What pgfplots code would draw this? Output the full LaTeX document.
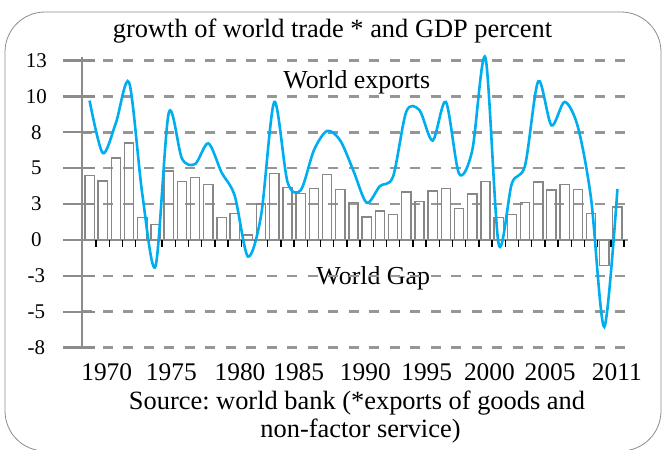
\documentclass[border=0pt]{standalone}
\usepackage{pgfplots}
\pgfplotsset{compat=1.18}
\usepackage{pgfplotstable}
\usepackage{fontspec}
\setmainfont{Liberation Serif}
\frenchspacing
\definecolor{expblue}{RGB}{0,174,239}
\definecolor{gridgray}{RGB}{150,150,150}
\definecolor{axgray}{RGB}{140,140,140}
\definecolor{bargray}{RGB}{135,135,135}

\pgfplotstableread{
year gdp
1970 4.69
1971 4.28
1972 5.94
1973 7.03
1974 1.64
1975 1.13
1976 5.00
1977 4.26
1978 4.53
1979 4.04
1980 1.64
1981 1.90
1982 0.36
1983 2.60
1984 4.79
1985 3.78
1986 3.37
1987 3.73
1988 4.74
1989 3.66
1990 2.69
1991 1.66
1992 2.09
1993 1.86
1994 3.47
1995 2.79
1996 3.54
1997 3.75
1998 2.29
1999 3.34
2000 4.24
2001 1.61
2002 1.86
2003 2.69
2004 4.21
2005 3.63
2006 4.02
2007 3.66
2008 1.93
2009 -1.86
2010 2.38
}\gdptable

\pgfplotstableread{
year exports
1970 10.1
1971 6.3
1972 8.5
1973 11.4
1974 3.3
1975 -1.9
1976 9.2
1977 5.9
1978 5.5
1979 7.0
1980 4.9
1981 3.2
1982 -1.2
1983 1.8
1984 10.0
1985 4.2
1986 3.6
1987 6.5
1988 7.9
1989 7.2
1990 5.0
1991 2.7
1992 3.9
1993 4.6
1994 9.3
1995 9.4
1996 7.2
1997 10.0
1998 4.8
1999 6.5
2000 13.2
2001 -0.3
2002 4.1
2003 5.4
2004 11.5
2005 8.3
2006 10.0
2007 8.2
2008 3.0
2009 -6.3
2010 3.7
}\exptable

\begin{document}
\begin{tikzpicture}
\useasboundingbox (0bp,0bp) rectangle (663bp,450bp);
\draw[axgray, line width=0.8bp, rounded corners=40bp] (5bp,-1bp) rectangle (661bp,438bp);
\node[anchor=base, font=\fontsize{26.5}{28}\selectfont] at (332.5bp,412.5bp) {growth of world trade * and GDP percent};
\node[anchor=base, font=\fontsize{26.5}{28}\selectfont] at (357bp,40.2bp) {Source: world bank (*exports of goods and};
\node[anchor=base, font=\fontsize{26.5}{28}\selectfont] at (360.5bp,13bp) {non-factor service)};
\begin{axis}[
  at={(82.3bp,102.4bp)}, anchor=south west,
  scale only axis, width=545.7bp, height=290.5bp,
  xmin=1969.45, xmax=2010.8,
  ymin=-7.8, ymax=13.25,
  axis x line*=bottom,
  x axis line style={draw=none},
  axis y line*=left,
  y axis line style={axgray, line width=2.2bp, -},
  ytick={-7.8,-5.2,-2.6,0,2.6,5.2,7.8,10.4,13},
  yticklabels={-8,-5,-3,0,3,5,8,10,13},
  ytick style={axgray, line width=2.2bp},
  tick align=outside,
  major tick length=19bp,
  ymajorgrids,
  grid style={gridgray, line width=2.6bp, dash pattern=on 10bp off 10.5bp},
  yticklabel style={font=\fontsize{21}{22}\selectfont, inner sep=0pt, anchor=center, xshift=-27bp},
  xtick={1971.3,1976.2,1981.4,1985.85,1990.9,1995.55,2000.3,2004.9,2009.96},
  xticklabels={1970,1975,1980,1985,1990,1995,2000,2005,2011},
  xtick style={draw=none},
  xticklabel style={font=\fontsize{25.5}{26}\selectfont, inner sep=0pt, anchor=base, yshift=-13.4bp},
  clip=false,
]
\node[anchor=base, font=\fontsize{26}{28}\selectfont] at (axis cs:1991.5,-3.26) {World Gap};
\draw[gridgray, line width=2.6bp, dash pattern=on 10bp off 10.5bp] (axis cs:1969.45,-2.6) -- (axis cs:2010.8,-2.6);
\node[anchor=base, font=\fontsize{26}{28}\selectfont] at (axis cs:1990.25,10.94) {World exports};
\pgfplotsinvokeforeach{-7.8,-5.2,-2.6,0,2.6,5.2,7.8,10.4,13}{
  \draw[axgray, line width=2.2bp] (axis cs:1969.45,#1) -- ([xshift=13bp]axis cs:1969.45,#1);
}
\addplot[ybar, bar width=0.7, draw=bargray, fill=none, line width=1.3bp] table[x=year, y=gdp] {\gdptable};
\draw[axgray, line width=2.6bp] (axis cs:1969.45,0) -- (axis cs:2010.8,0);
\pgfplotsinvokeforeach{1970,...,2010}{
  \draw[black, line width=1.4bp] (axis cs:#1.5,0) -- ([yshift=-7bp]axis cs:#1.5,0);
}
\addplot[expblue, line width=2.6bp, smooth] table[x=year, y=exports] {\exptable};
\end{axis}
\end{tikzpicture}
\end{document}
